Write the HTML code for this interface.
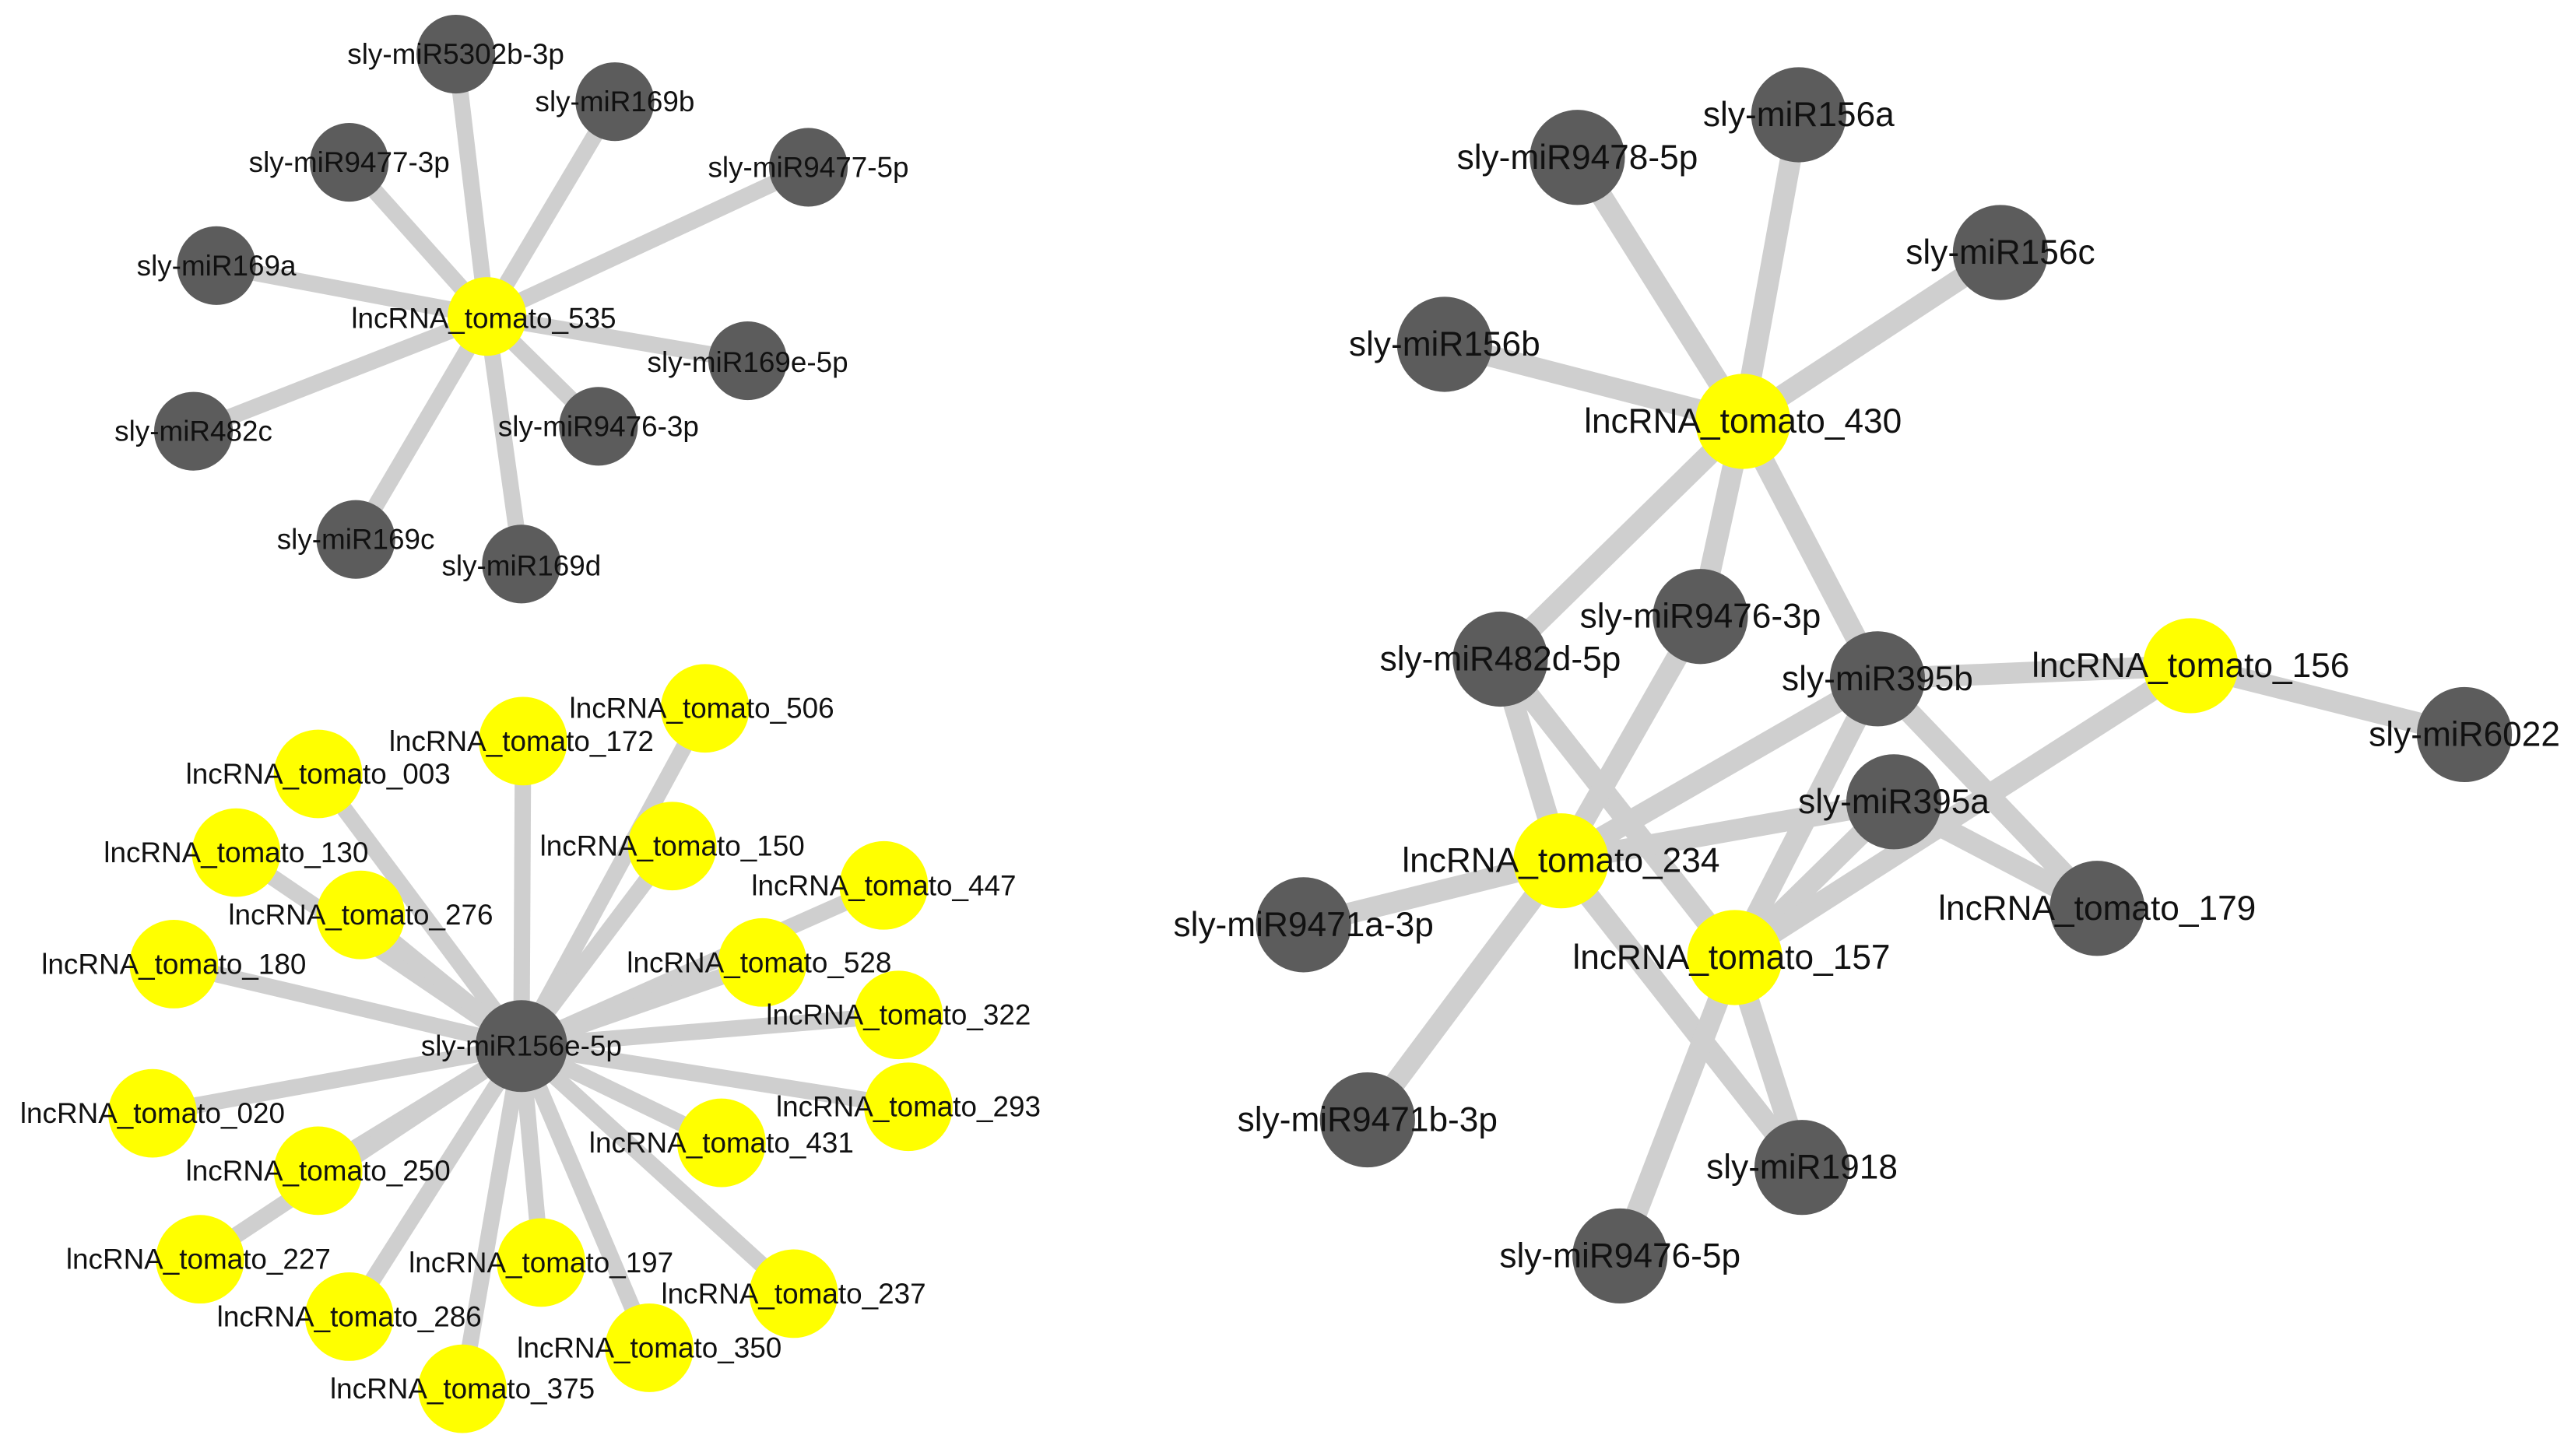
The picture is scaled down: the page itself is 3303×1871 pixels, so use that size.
<!DOCTYPE html>
<html><head><meta charset="utf-8"><style>
html,body{margin:0;padding:0;background:#fff}
svg{display:block}
text{font-family:"Liberation Sans",sans-serif;fill:#111;text-anchor:middle;dominant-baseline:central}
</style></head><body>
<svg width="3303" height="1871" viewBox="0 0 1568 888" preserveAspectRatio="none" xmlns="http://www.w3.org/2000/svg">
<g stroke="#cfcfcf" stroke-width="10" stroke-linecap="butt">
<line x1="297" y1="193" x2="278" y2="33"/><line x1="297" y1="193" x2="375" y2="62"/>
<line x1="297" y1="193" x2="213" y2="99"/><line x1="297" y1="193" x2="493" y2="102"/>
<line x1="297" y1="193" x2="132" y2="162"/><line x1="297" y1="193" x2="456" y2="220"/>
<line x1="297" y1="193" x2="118" y2="263"/><line x1="297" y1="193" x2="365" y2="260"/>
<line x1="297" y1="193" x2="217" y2="329"/><line x1="297" y1="193" x2="318" y2="344"/>
<line x1="318" y1="638" x2="430" y2="432"/><line x1="318" y1="638" x2="319" y2="452"/>
<line x1="318" y1="638" x2="194" y2="472"/><line x1="318" y1="638" x2="144" y2="520"/>
<line x1="318" y1="638" x2="410" y2="516"/><line x1="318" y1="638" x2="539" y2="540"/>
<line x1="318" y1="638" x2="220" y2="558"/><line x1="318" y1="638" x2="106" y2="588"/>
<line x1="318" y1="638" x2="465" y2="587"/><line x1="318" y1="638" x2="548" y2="619"/>
<line x1="318" y1="638" x2="93" y2="679"/><line x1="318" y1="638" x2="554" y2="675"/>
<line x1="318" y1="638" x2="440" y2="697"/><line x1="318" y1="638" x2="194" y2="714"/>
<line x1="318" y1="638" x2="122" y2="768"/><line x1="318" y1="638" x2="330" y2="770"/>
<line x1="318" y1="638" x2="484" y2="789"/><line x1="318" y1="638" x2="213" y2="803"/>
<line x1="318" y1="638" x2="396" y2="822"/><line x1="318" y1="638" x2="282" y2="847"/>
</g>
<g stroke="#cfcfcf" stroke-width="13">
<line x1="1063" y1="257" x2="962" y2="96"/><line x1="1063" y1="257" x2="1097" y2="70"/>
<line x1="1063" y1="257" x2="1220" y2="154"/><line x1="1063" y1="257" x2="881" y2="210"/>
<line x1="1063" y1="257" x2="915" y2="402"/><line x1="1063" y1="257" x2="1037" y2="376"/>
<line x1="1063" y1="257" x2="1145" y2="414"/>
<line x1="915" y1="402" x2="952" y2="525"/><line x1="915" y1="402" x2="1058" y2="584"/>
<line x1="1037" y1="376" x2="952" y2="525"/>
<line x1="1145" y1="414" x2="952" y2="525"/><line x1="1155" y1="489" x2="952" y2="525"/>
<line x1="1145" y1="414" x2="1058" y2="584"/><line x1="1155" y1="489" x2="1058" y2="584"/>
<line x1="1145" y1="414" x2="1279" y2="554"/><line x1="1155" y1="489" x2="1279" y2="554"/>
<line x1="1145" y1="414" x2="1336" y2="406"/><line x1="1336" y1="406" x2="1503" y2="448"/>
<line x1="1336" y1="406" x2="1058" y2="584"/>
<line x1="952" y1="525" x2="795" y2="564"/><line x1="952" y1="525" x2="834" y2="683"/>
<line x1="952" y1="525" x2="1099" y2="712"/>
<line x1="1058" y1="584" x2="1099" y2="712"/><line x1="1058" y1="584" x2="988" y2="766"/>
</g>
<g fill="#5c5c5c">
<circle cx="278" cy="33" r="24"/><circle cx="375" cy="62" r="24"/><circle cx="213" cy="99" r="24"/>
<circle cx="493" cy="102" r="24"/><circle cx="132" cy="162" r="24"/><circle cx="456" cy="220" r="24"/>
<circle cx="118" cy="263" r="24"/><circle cx="365" cy="260" r="24"/><circle cx="217" cy="329" r="24"/>
<circle cx="318" cy="344" r="24"/>
<circle cx="318" cy="638" r="28"/>
<circle cx="962" cy="96" r="29"/><circle cx="1097" cy="70" r="29"/><circle cx="1220" cy="154" r="29"/>
<circle cx="881" cy="210" r="29"/><circle cx="915" cy="402" r="29"/><circle cx="1037" cy="376" r="29"/>
<circle cx="1145" cy="414" r="29"/><circle cx="1503" cy="448" r="29"/><circle cx="1155" cy="489" r="29"/>
<circle cx="1279" cy="554" r="29"/><circle cx="795" cy="564" r="29"/><circle cx="834" cy="683" r="29"/>
<circle cx="1099" cy="712" r="29"/><circle cx="988" cy="766" r="29"/>
</g>
<g fill="#ffff00">
<circle cx="297" cy="193" r="24"/>
<circle cx="430" cy="432" r="27"/><circle cx="319" cy="452" r="27"/><circle cx="194" cy="472" r="27"/>
<circle cx="144" cy="520" r="27"/><circle cx="410" cy="516" r="27"/><circle cx="539" cy="540" r="27"/>
<circle cx="220" cy="558" r="27"/><circle cx="106" cy="588" r="27"/><circle cx="465" cy="587" r="27"/>
<circle cx="548" cy="619" r="27"/><circle cx="93" cy="679" r="27"/><circle cx="554" cy="675" r="27"/>
<circle cx="440" cy="697" r="27"/><circle cx="194" cy="714" r="27"/><circle cx="122" cy="768" r="27"/>
<circle cx="330" cy="770" r="27"/><circle cx="484" cy="789" r="27"/><circle cx="213" cy="803" r="27"/>
<circle cx="396" cy="822" r="27"/><circle cx="282" cy="847" r="27"/>
<circle cx="1063" cy="257" r="29"/><circle cx="1336" cy="406" r="29"/>
<circle cx="952" cy="525" r="29"/><circle cx="1058" cy="584" r="29"/>
</g>
<g font-size="17.5">
<text x="278" y="33">sly-miR5302b-3p</text><text x="375" y="62">sly-miR169b</text>
<text x="213" y="99">sly-miR9477-3p</text><text x="493" y="102">sly-miR9477-5p</text>
<text x="132" y="162">sly-miR169a</text><text x="456" y="221">sly-miR169e-5p</text>
<text x="118" y="263">sly-miR482c</text><text x="365" y="260">sly-miR9476-3p</text>
<text x="217" y="329">sly-miR169c</text><text x="318" y="345">sly-miR169d</text>
<text x="295" y="194">lncRNA_tomato_535</text>
<text x="318" y="638">sly-miR156e-5p</text>
<text x="428" y="432">lncRNA_tomato_506</text><text x="318" y="452">lncRNA_tomato_172</text>
<text x="194" y="472">lncRNA_tomato_003</text><text x="144" y="520">lncRNA_tomato_130</text>
<text x="410" y="516">lncRNA_tomato_150</text><text x="539" y="540">lncRNA_tomato_447</text>
<text x="220" y="558">lncRNA_tomato_276</text><text x="106" y="588">lncRNA_tomato_180</text>
<text x="463" y="587">lncRNA_tomato_528</text><text x="548" y="619">lncRNA_tomato_322</text>
<text x="93" y="679">lncRNA_tomato_020</text><text x="554" y="675">lncRNA_tomato_293</text>
<text x="440" y="697">lncRNA_tomato_431</text><text x="194" y="714">lncRNA_tomato_250</text>
<text x="121" y="768">lncRNA_tomato_227</text><text x="330" y="770">lncRNA_tomato_197</text>
<text x="484" y="789">lncRNA_tomato_237</text><text x="213" y="803">lncRNA_tomato_286</text>
<text x="396" y="822">lncRNA_tomato_350</text><text x="282" y="847">lncRNA_tomato_375</text>
</g>
<g font-size="21">
<text x="962" y="96">sly-miR9478-5p</text><text x="1097" y="70">sly-miR156a</text>
<text x="1220" y="154">sly-miR156c</text><text x="881" y="210">sly-miR156b</text>
<text x="1063" y="257">lncRNA_tomato_430</text>
<text x="915" y="402">sly-miR482d-5p</text><text x="1037" y="376">sly-miR9476-3p</text>
<text x="1145" y="414">sly-miR395b</text><text x="1336" y="406">lncRNA_tomato_156</text>
<text x="1503" y="448">sly-miR6022</text><text x="1155" y="489">sly-miR395a</text>
<text x="952" y="525">lncRNA_tomato_234</text><text x="1279" y="554">lncRNA_tomato_179</text>
<text x="795" y="564">sly-miR9471a-3p</text><text x="1056" y="584">lncRNA_tomato_157</text>
<text x="834" y="683">sly-miR9471b-3p</text><text x="1099" y="712">sly-miR1918</text>
<text x="988" y="766">sly-miR9476-5p</text>
</g>
</svg>
</body></html>
